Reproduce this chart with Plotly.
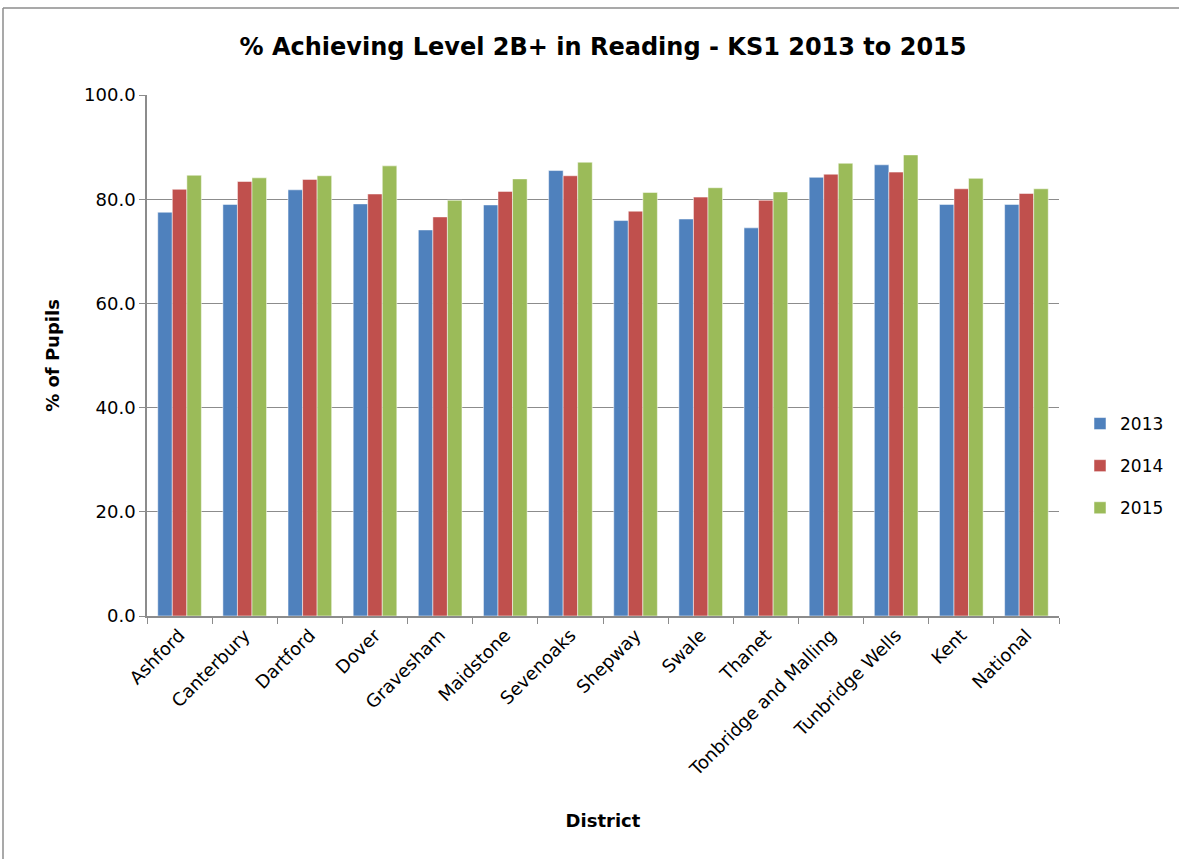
import plotly.graph_objects as go

districts = ["Ashford", "Canterbury", "Dartford", "Dover", "Gravesham", "Maidstone",
             "Sevenoaks", "Shepway", "Swale", "Thanet", "Tonbridge and Malling",
             "Tunbridge Wells", "Kent", "National"]
v2013 = [77.5, 79.0, 81.8, 79.1, 74.1, 78.9, 85.5, 75.9, 76.2, 74.5, 84.2, 86.6, 79.0, 79.0]
v2014 = [81.9, 83.4, 83.8, 81.0, 76.6, 81.5, 84.5, 77.7, 80.4, 79.8, 84.8, 85.2, 82.0, 81.1]
v2015 = [84.6, 84.1, 84.5, 86.4, 79.8, 83.9, 87.1, 81.3, 82.2, 81.4, 86.9, 88.5, 84.0, 82.0]
series = [("2013", v2013, "#4F81BD"), ("2014", v2014, "#C0504D"), ("2015", v2015, "#9BBB59")]

font = "Verdana, DejaVu Sans, sans-serif"
W, H = 1179, 859
L, R, T, B = 147, 1059, 95, 616
PW, PH = R - L, B - T

fig = go.Figure()
for name, vals, col in series:
    fig.add_trace(go.Bar(x=districts, y=vals, name=name, marker_color=col, legendgroup=name,
                         marker_line=dict(color="rgba(255,255,255,0.5)", width=1)))

fig.update_layout(
    width=W, height=H,
    paper_bgcolor="white", plot_bgcolor="white",
    margin=dict(l=L, r=W - R, t=T, b=H - B, autoexpand=False),
    barmode="group", bargap=0.33, bargroupgap=0,
    title=dict(text="<b>% Achieving Level 2B+ in Reading - KS1 2013 to 2015</b>",
               x=0.5, xanchor="center", y=1 - 47 / H, yanchor="middle",
               xref="paper", font=dict(family=font, size=24, color="black")),
    font=dict(family=font, size=17, color="black"),
    legend=dict(xref="container", yref="container", x=1080 / W, y=1 - 466 / H,
                xanchor="left", yanchor="middle",
                font=dict(family=font, size=17), itemwidth=30, tracegroupgap=17,
                bgcolor="rgba(0,0,0,0)"),
    showlegend=True,
)
fig.update_yaxes(range=[0, 100], tickvals=[0, 20, 40, 60, 80, 100], tickformat=".1f",
                 showgrid=True, gridcolor="#8C8C8C", gridwidth=1,
                 showline=True, linecolor="#8C8C8C", linewidth=1.5,
                 ticks="outside", ticklen=6, tickcolor="#8C8C8C", automargin=False,
                 title=dict(text="<b>% of Pupils</b>", font=dict(family=font, size=18), standoff=20),
                 tickfont=dict(size=18))
fig.update_xaxes(showline=True, linecolor="#8C8C8C", linewidth=1.5,
                 ticks="outside", ticklen=6, tickcolor="#8C8C8C", tickson="boundaries",
                 tickangle=-45, tickfont=dict(size=18), automargin=False,
                 title=dict(text="<b>District</b>", font=dict(family=font, size=18), standoff=35))
# outer chart frame (top and left edges visible)
fig.add_shape(type="line", xref="paper", yref="paper",
              x0=(3 - L) / PW, x1=(1300 - L) / PW, y0=(B - 8) / PH, y1=(B - 8) / PH,
              line=dict(color="#8C8C8C", width=1.5), layer="below")
fig.add_shape(type="line", xref="paper", yref="paper",
              x0=(3 - L) / PW, x1=(3 - L) / PW, y0=(B - 8) / PH, y1=(B - 950) / PH,
              line=dict(color="#8C8C8C", width=1.5), layer="below")
fig.write_html("out.html", config={"displayModeBar": False},
               post_script="document.body.style.margin='0px';document.body.style.overflow='hidden';")
